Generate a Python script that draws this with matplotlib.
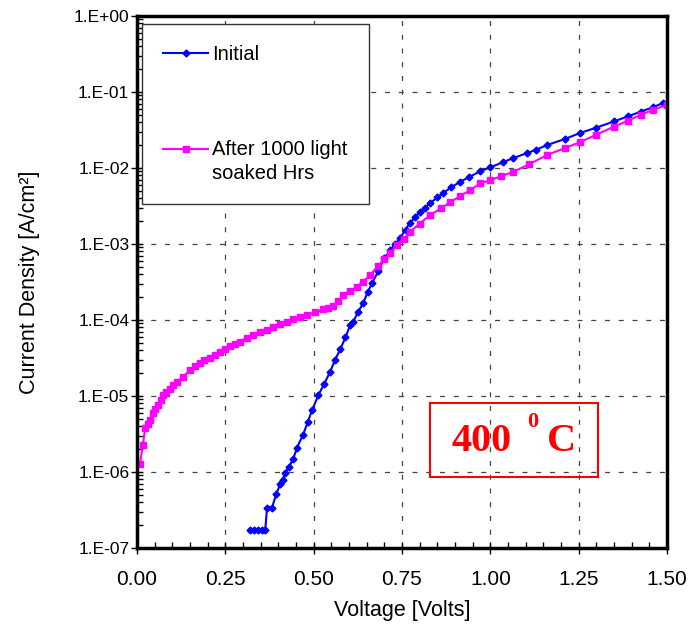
import matplotlib
matplotlib.use('Agg')
import matplotlib.pyplot as plt
from matplotlib.ticker import MultipleLocator, LogLocator, FuncFormatter, NullFormatter
from matplotlib.patches import Rectangle
from matplotlib.lines import Line2D
from matplotlib.transforms import Affine2D
import numpy as np

# Initial curve
v_initial = [0.320, 0.331, 0.343, 0.354, 0.363, 0.368, 0.382, 0.394, 0.405, 0.412,
             0.420, 0.430, 0.442, 0.453, 0.470, 0.483, 0.496, 0.513, 0.530, 0.547,
             0.560, 0.575, 0.590, 0.603, 0.612, 0.625, 0.640, 0.653, 0.666, 0.683,
             0.700, 0.717, 0.731, 0.745, 0.760, 0.773, 0.787, 0.800, 0.815, 0.830,
             0.850, 0.867, 0.890, 0.915, 0.940, 0.972, 1.000, 1.037, 1.065, 1.105,
             1.130, 1.160, 1.210, 1.255, 1.300, 1.350, 1.390, 1.425, 1.460, 1.490]
j_initial = [1.74e-7, 1.74e-7, 1.74e-7, 1.74e-7, 1.74e-7, 3.39e-7, 3.39e-7, 5.1e-7, 6.9e-7, 7.9e-7,
             9.8e-7, 1.17e-6, 1.48e-6, 2.1e-6, 3.1e-6, 4.5e-6, 6.6e-6, 1.02e-5, 1.45e-5, 2.1e-5,
             2.95e-5, 4.1e-5, 5.9e-5, 8.5e-5, 9.5e-5, 1.26e-4, 1.66e-4, 2.34e-4, 3.1e-4, 4.4e-4,
             6.5e-4, 8.3e-4, 1.0e-3, 1.2e-3, 1.55e-3, 1.9e-3, 2.24e-3, 2.63e-3, 3.0e-3, 3.47e-3,
             4.1e-3, 4.7e-3, 5.6e-3, 6.6e-3, 7.6e-3, 9.1e-3, 1.02e-2, 1.2e-2, 1.35e-2, 1.58e-2,
             1.74e-2, 2.0e-2, 2.4e-2, 2.9e-2, 3.4e-2, 4.1e-2, 4.8e-2, 5.5e-2, 6.3e-2, 7.2e-2]

# after 1000 h light soaking
v_soaked = [0.008, 0.017, 0.023, 0.030, 0.037, 0.045, 0.052, 0.060, 0.067, 0.074,
            0.083, 0.093, 0.103, 0.113, 0.130, 0.150, 0.165, 0.178, 0.190, 0.207,
            0.220, 0.235, 0.250, 0.263, 0.278, 0.292, 0.310, 0.329, 0.348, 0.368,
            0.385, 0.405, 0.425, 0.442, 0.462, 0.482, 0.505, 0.527, 0.541, 0.555,
            0.570, 0.584, 0.603, 0.623, 0.640, 0.660, 0.683, 0.700, 0.717, 0.736,
            0.755, 0.773, 0.800, 0.830, 0.860, 0.887, 0.915, 0.943, 0.972, 1.000,
            1.030, 1.065, 1.110, 1.160, 1.210, 1.255, 1.300, 1.350, 1.390, 1.425,
            1.460, 1.500]
j_soaked = [1.26e-6, 2.3e-6, 3.8e-6, 4.3e-6, 4.8e-6, 6.0e-6, 6.8e-6, 7.6e-6, 8.9e-6, 1.02e-5,
            1.12e-5, 1.23e-5, 1.38e-5, 1.55e-5, 1.78e-5, 2.2e-5, 2.45e-5, 2.7e-5, 2.95e-5, 3.2e-5,
            3.5e-5, 3.8e-5, 4.2e-5, 4.6e-5, 4.9e-5, 5.2e-5, 5.8e-5, 6.3e-5, 6.9e-5, 7.4e-5,
            8.1e-5, 8.9e-5, 9.5e-5, 1.02e-4, 1.1e-4, 1.17e-4, 1.26e-4, 1.38e-4, 1.45e-4, 1.51e-4,
            1.78e-4, 2.14e-4, 2.4e-4, 2.75e-4, 3.2e-4, 3.9e-4, 5.2e-4, 6.3e-4, 7.6e-4, 9.8e-4,
            1.17e-3, 1.45e-3, 1.86e-3, 2.4e-3, 2.95e-3, 3.55e-3, 4.3e-3, 5.1e-3, 6.3e-3, 6.9e-3,
            7.8e-3, 8.9e-3, 1.12e-2, 1.48e-2, 1.82e-2, 2.2e-2, 2.75e-2, 3.5e-2, 4.2e-2, 5.0e-2,
            5.8e-2, 6.8e-2]

label_initial = 'Initial'
label_soaked = 'After 1000 light\nsoaked Hrs'

plt.rcParams['font.family'] = ['Liberation Sans', 'DejaVu Sans']

fig = plt.figure(figsize=(6.94, 6.28), dpi=100)
ax = fig.add_axes([0.1974, 0.1274, 0.7637, 0.8471])

ax.plot(v_initial, j_initial, color='#0000ff', lw=1.5, marker='D', ms=3.5, label=label_initial)
ax.plot(v_soaked, j_soaked, color='#ff00ff', lw=1.5, marker='s', ms=5, label=label_soaked)

ax.set_yscale('log')
ax.set_xlim(0, 1.5)
ax.set_ylim(1e-7, 1)

ax.xaxis.set_major_locator(MultipleLocator(0.25))
ax.xaxis.set_minor_locator(MultipleLocator(0.05))
ax.xaxis.set_major_formatter(FuncFormatter(lambda v, p: f'{v:.2f}'))
ax.yaxis.set_major_locator(LogLocator(base=10, numticks=10))
ax.yaxis.set_minor_locator(LogLocator(base=10, subs=np.arange(2, 10), numticks=10))
ax.yaxis.set_minor_formatter(NullFormatter())
ax.yaxis.set_major_formatter(FuncFormatter(lambda v, p: f'1.E{int(round(np.log10(v))):+03d}'))

ax.tick_params(axis='x', which='major', direction='inout', length=9, width=1, labelsize=15, pad=11.5)
ax.tick_params(axis='y', which='major', direction='inout', length=9, width=1, labelsize=12.5, pad=1)
ax.tick_params(which='minor', direction='in', length=4, width=1)

for s in ax.spines.values():
    s.set_linewidth(2.5)

ax.grid(True, which='major', color='#444444', linestyle=(0, (4, 7)), linewidth=0.9)

ax.set_xlabel('Voltage [Volts]', fontsize=15.5, labelpad=7.5)
ax.set_ylabel('Current Density [A/cm²]', fontsize=15.5, labelpad=24)

leg = ax.legend(loc='upper left', bbox_to_anchor=(0.0094, 0.985), borderaxespad=0,
                fontsize=14.5, fancybox=False, framealpha=1, edgecolor='#333333',
                handlelength=2.25, handletextpad=0.2, borderpad=1.05, labelspacing=3.75)
leg.get_frame().set_linewidth(1.0)
for t in leg.get_texts():
    t.set_linespacing(1.36)
# put the magenta handle level with the first line of its label
for ln in leg.findobj(Line2D):
    if ln.get_color() == '#ff00ff':
        ln.set_transform(ln.get_transform() + Affine2D().translate(0, 12.5))

# temperature tag
ax.add_patch(Rectangle((0.553, 0.133), 0.317, 0.140, transform=ax.transAxes,
                       fill=False, edgecolor='#ff0000', lw=1.5, zorder=5))
ax.text(0.651, 0.200, '400', transform=ax.transAxes, ha='center', va='center',
        family='Liberation Serif', fontweight='bold', fontsize=29, color='#ff0000')
ax.text(0.747, 0.237, '0', transform=ax.transAxes, ha='center', va='center',
        family='Liberation Serif', fontweight='bold', fontsize=16, color='#ff0000')
ax.text(0.802, 0.200, 'C', transform=ax.transAxes, ha='center', va='center',
        family='Liberation Serif', fontweight='bold', fontsize=29, color='#ff0000')

fig.savefig('out.png', dpi=100)
